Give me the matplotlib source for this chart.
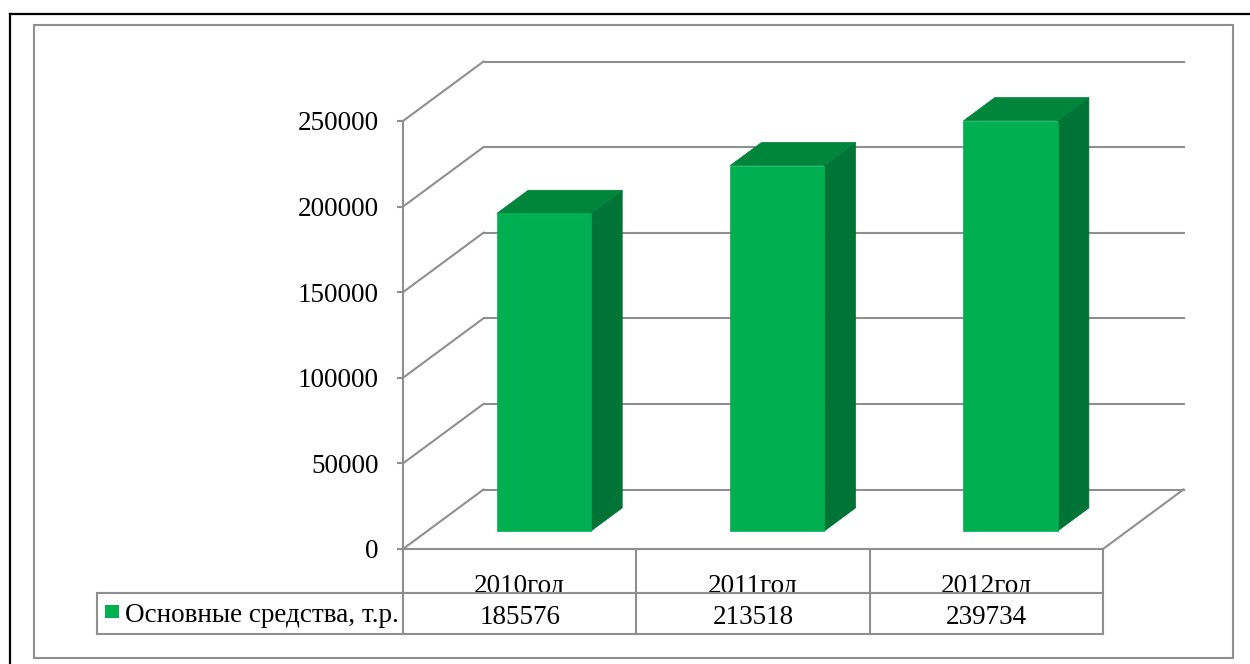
import matplotlib
matplotlib.use("Agg")
import matplotlib.pyplot as plt
import matplotlib.transforms as mtransforms
from matplotlib.patches import Polygon, Rectangle
from matplotlib.lines import Line2D

# ---- data ----
categories = ["2010год", "2011год", "2012год"]
values = [185576, 213518, 239734]
series_name = "Основные средства, т.р."
yticks = [0, 50000, 100000, 150000, 200000, 250000]

# ---- style ----
FONT = ["Liberation Serif", "DejaVu Serif"]
plt.rcParams["font.family"] = FONT
GRAY = "#8f8f8f"
FRONT = "#00b050"
SIDE = "#007434"
TOP = "#00853d"
FS = 19.5

W, H = 1250, 664
fig = plt.figure(figsize=(W / 100, H / 100), dpi=100)
px = mtransforms.Affine2D().scale(1 / W, -1 / H).translate(0, 1) + fig.transFigure

# plot area (front plane)
x0, x1, ytop, ybot = 403, 1103, 121, 549
ax = fig.add_axes([x0 / W, (H - ybot) / H, (x1 - x0) / W, (ybot - ytop) / H])
ax.set_xlim(0, len(categories))
ax.set_ylim(0, yticks[-1])
ax.patch.set_alpha(0)
for s in ["top", "right", "bottom"]:
    ax.spines[s].set_visible(False)
ax.spines["left"].set_color(GRAY)
ax.spines["left"].set_linewidth(1.5)
ax.set_xticks([])
ax.set_yticks(yticks)
ax.set_yticklabels([str(t) for t in yticks], fontsize=FS)
ax.tick_params(axis="y", direction="out", length=4.5, width=1.5, color=GRAY, pad=13)

# depth offsets in data units
ppx = (x1 - x0) / len(categories)          # pixels per category
ppv = (ybot - ytop) / yticks[-1]           # pixels per value unit
DX = 80.5 / ppx
DY = 59.5 / ppv


def P(x, v, d):
    return (x + d * DX, v + d * DY)


# back wall gridlines + left wall diagonals
n = len(categories)
for t in yticks:
    ax.add_line(Line2D([P(0, t, 1)[0], P(n, t, 1)[0]], [P(0, t, 1)[1]] * 2,
                       color=GRAY, lw=1.5, clip_on=False, zorder=1))
    ax.add_line(Line2D([0, P(0, t, 1)[0]], [t, P(0, t, 1)[1]],
                       color=GRAY, lw=1.5, clip_on=False, zorder=1))
# floor right diagonal
ax.add_line(Line2D([n, P(n, 0, 1)[0]], [0, P(n, 0, 1)[1]],
                   color=GRAY, lw=1.5, clip_on=False, zorder=1))

# bars
bw = 0.403
f0, f1 = 0.30, 0.69
for i, v in enumerate(values):
    xl = i + 0.5 - bw / 2
    xr = i + 0.5 + bw / 2
    side = [P(xr, 0, f0), P(xr, 0, f1), P(xr, v, f1), P(xr, v, f0)]
    top = [P(xl, v, f0), P(xr, v, f0), P(xr, v, f1), P(xl, v, f1)]
    front = [P(xl, 0, f0), P(xr, 0, f0), P(xr, v, f0), P(xl, v, f0)]
    for poly, c in [(side, SIDE), (top, TOP), (front, FRONT)]:
        ax.add_patch(Polygon(poly, closed=True, facecolor=c, edgecolor=c,
                             lw=0.5, clip_on=False, zorder=3))

# ---- data table ----
bt = mtransforms.blended_transform_factory(ax.transData, px)
r0, r1, r2 = 549, 593, 634
fig.add_artist(Line2D([0, n], [r0, r0], transform=bt, color=GRAY, lw=1.5, zorder=5))
fig.add_artist(Line2D([0, n], [r1, r1], transform=bt, color=GRAY, lw=1.5, zorder=5))
fig.add_artist(Line2D([0, n], [r2, r2], transform=bt, color=GRAY, lw=1.5, zorder=5))
fig.add_artist(Line2D([97, 403], [r1, r1], transform=px, color=GRAY, lw=1.5, zorder=5))
fig.add_artist(Line2D([97, 403], [r2, r2], transform=px, color=GRAY, lw=1.5, zorder=5))
fig.add_artist(Line2D([97, 97], [r1, r2], transform=px, color=GRAY, lw=1.5, zorder=5))
for k in range(n + 1):
    fig.add_artist(Line2D([k, k], [r0, r2], transform=bt, color=GRAY, lw=1.5, zorder=5))

for i, (c, v) in enumerate(zip(categories, values)):
    t = fig.text(i + 0.5, 592, c, transform=bt, ha="center", va="baseline",
                 fontsize=FS, color="black", zorder=4)
    clip = Rectangle((i, r0), 1, r1 - r0 - 0.5, transform=bt)
    t.set_clip_path(clip)
    fig.text(i + 0.5, 614, f"{v}", transform=bt, ha="center", va="center_baseline",
             fontsize=FS, color="black")

# legend cell
fig.add_artist(Rectangle((105, 605), 14, 13, transform=px, facecolor=FRONT,
                         edgecolor="none"))
fig.text(125, 613, series_name, transform=px, ha="left", va="center_baseline",
         fontsize=FS, color="black")

# ---- frames ----
fig.add_artist(Line2D([10, 10], [14, H], transform=px, color="black", lw=1.6))
fig.add_artist(Line2D([10, W], [14, 14], transform=px, color="black", lw=1.6))
fig.add_artist(Rectangle((34, 25), 1233 - 34, 658 - 25, transform=px,
                         facecolor="none", edgecolor=GRAY, lw=1.5))

fig.savefig("out.png", dpi=100)
